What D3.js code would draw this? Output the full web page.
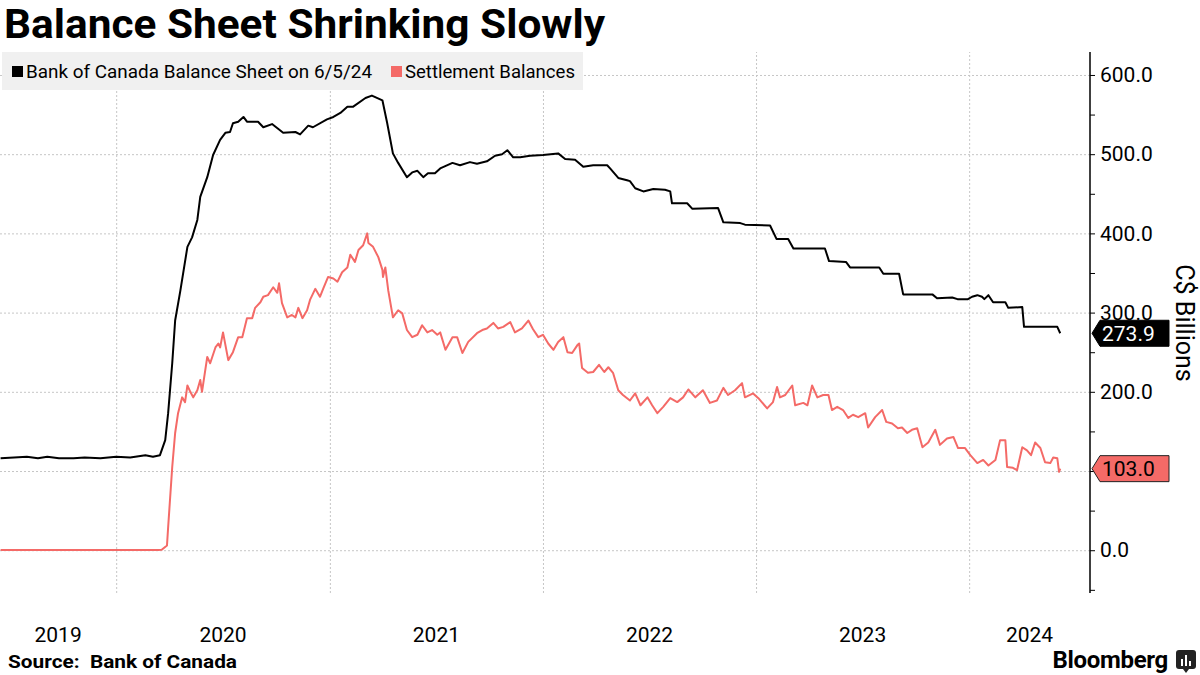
<!DOCTYPE html>
<html>
<head>
<meta charset="utf-8">
<script src="https://cdn.jsdelivr.net/npm/d3@7"></script>
<style>
  html, body { margin: 0; padding: 0; background: #fff; }
  svg { display: block; font-family: Roboto, "Noto Sans", sans-serif; }
</style>
</head>
<body>
<svg id="chart" width="1200" height="675"></svg>
<script>
// ---------------- DATA ----------------
const titleText = "Balance Sheet Shrinking Slowly";
const seriesNames = ["Bank of Canada Balance Sheet on 6/5/24", "Settlement Balances"];
const yTickValues = [0, 100, 200, 300, 400, 500, 600];
const yMinorTicks = [-50, 50, 150, 250, 350, 450, 550];
const yearLabels = [2019, 2020, 2021, 2022, 2023, 2024];
const domainStart = "2019-06-16";
const domainEnd = "2024-07-26";
const lastValues = [273.9, 103.0];

const balanceSheet = [
  ["2019-06-17",116],["2019-07-10",117],["2019-08-01",118],["2019-08-20",116],["2019-09-05",118],
  ["2019-09-25",116],["2019-10-20",116],["2019-11-08",117],["2019-12-05",116],["2020-01-01",118],
  ["2020-01-25",117],["2020-02-20",120],["2020-03-04",118],["2020-03-16",120],["2020-03-25",139],
  ["2020-03-30",173],["2020-04-06",236],["2020-04-11",290],["2020-04-20",328],["2020-05-02",383],
  ["2020-05-10",395],["2020-05-19",417],["2020-05-24",446],["2020-06-05",471],["2020-06-15",499],
  ["2020-06-27",518],["2020-07-06",527],["2020-07-14",528],["2020-07-19",539],["2020-07-28",541],
  ["2020-08-06",547],["2020-08-12",541],["2020-08-31",541],["2020-09-09",534],["2020-09-24",538],
  ["2020-10-13",527],["2020-11-03",528],["2020-11-11",525],["2020-11-25",536],["2020-12-03",534],
  ["2020-12-27",544],["2021-01-07",547],["2021-01-19",552],["2021-01-31",560],["2021-02-10",560],
  ["2021-03-03",571],["2021-03-14",574],["2021-04-01",568],["2021-04-09",540],["2021-04-19",501],
  ["2021-04-28",489],["2021-05-13",471],["2021-05-22",477],["2021-05-31",479],["2021-06-10",471],
  ["2021-06-18",476],["2021-06-30",476],["2021-07-09",482],["2021-07-30",489],["2021-08-12",486],
  ["2021-08-29",490],["2021-09-10",488],["2021-09-27",491],["2021-10-11",498],["2021-10-23",500],
  ["2021-11-01",505],["2021-11-11",496],["2021-11-23",496],["2021-12-10",498],["2022-01-01",499],
  ["2022-01-27",501],["2022-02-08",494],["2022-02-25",493],["2022-03-11",484],["2022-03-28",486],
  ["2022-04-21",486],["2022-04-26",482],["2022-05-10",470],["2022-05-25",467],["2022-05-30",466],
  ["2022-06-08",457],["2022-06-22",453],["2022-07-09",456],["2022-07-29",455],["2022-08-07",453],
  ["2022-08-10",438],["2022-09-05",438],["2022-09-14",431],["2022-10-28",432],["2022-11-06",414],
  ["2022-12-05",413],["2022-12-13",411],["2023-01-25",410],["2023-02-05",393],["2023-02-25",393],
  ["2023-03-06",381],["2023-04-29",381],["2023-05-06",365],["2023-06-04",364],["2023-06-11",357],
  ["2023-07-31",357],["2023-08-07",349],["2023-09-03",349],["2023-09-10",323],["2023-10-30",323],
  ["2023-11-07",318],["2023-12-03",319],["2023-12-12",317],["2023-12-30",317],["2024-01-06",320],
  ["2024-01-15",322],["2024-01-23",320],["2024-01-27",317],["2024-02-03",322],["2024-02-11",313],
  ["2024-03-03",313],["2024-03-08",306],["2024-04-01",307],["2024-04-04",282],["2024-05-31",282],
  ["2024-06-05",273.9]
];

const settlementBalances = [
  ["2019-06-17",0.3],["2020-03-13",0.3],["2020-03-19",0.5],["2020-03-28",6],["2020-03-30",29],
  ["2020-04-06",105],["2020-04-11",148],["2020-04-16",173],["2020-04-23",193],["2020-04-28",187],
  ["2020-05-02",208],["2020-05-07",200],["2020-05-12",193],["2020-05-19",202],["2020-05-24",215],
  ["2020-05-27",200],["2020-06-05",244],["2020-06-10",236],["2020-06-19",256],["2020-06-24",261],
  ["2020-06-27",256],["2020-07-02",275],["2020-07-11",240],["2020-07-19",250],["2020-07-28",269],
  ["2020-08-04",269],["2020-08-12",293],["2020-08-21",293],["2020-08-26",306],["2020-09-04",313],
  ["2020-09-09",320],["2020-09-17",322],["2020-09-26",332],["2020-10-03",325],["2020-10-06",337],
  ["2020-10-11",312],["2020-10-20",294],["2020-10-28",297],["2020-11-03",294],["2020-11-08",306],
  ["2020-11-15",293],["2020-11-23",303],["2020-11-28",316],["2020-12-07",330],["2020-12-15",320],
  ["2020-12-21",331],["2020-12-29",345],["2021-01-07",343],["2021-01-14",339],["2021-01-22",351],
  ["2021-01-31",357],["2021-02-05",373],["2021-02-13",364],["2021-02-19",379],["2021-02-27",385],
  ["2021-03-06",400],["2021-03-08",388],["2021-03-16",383],["2021-03-25",370],["2021-04-01",354],
  ["2021-04-02",345],["2021-04-06",357],["2021-04-11",328],["2021-04-19",294],["2021-04-28",303],
  ["2021-05-05",299],["2021-05-13",278],["2021-05-22",269],["2021-05-31",272],["2021-06-08",284],
  ["2021-06-17",275],["2021-06-25",278],["2021-07-04",272],["2021-07-09",275],["2021-07-18",253],
  ["2021-07-30",269],["2021-08-07",269],["2021-08-16",249],["2021-08-26",263],["2021-09-10",274],
  ["2021-09-19",278],["2021-09-27",280],["2021-10-08",287],["2021-10-16",280],["2021-10-25",282],
  ["2021-11-06",288],["2021-11-14",275],["2021-11-26",280],["2021-12-07",290],["2021-12-15",279],
  ["2021-12-24",269],["2022-01-01",272],["2022-01-10",261],["2022-01-19",253],["2022-01-27",263],
  ["2022-02-05",269],["2022-02-12",250],["2022-02-20",249],["2022-03-01",259],["2022-03-04",261],
  ["2022-03-09",230],["2022-03-19",224],["2022-03-28",225],["2022-04-07",234],["2022-04-16",225],
  ["2022-04-23",231],["2022-05-01",224],["2022-05-10",202],["2022-05-18",196],["2022-05-30",189],
  ["2022-06-08",198],["2022-06-17",183],["2022-06-29",193],["2022-07-07",183],["2022-07-16",173],
  ["2022-07-26",181],["2022-08-07",192],["2022-08-19",187],["2022-08-29",193],["2022-09-07",203],
  ["2022-09-19",193],["2022-10-02",202],["2022-10-14",186],["2022-10-26",189],["2022-11-06",205],
  ["2022-11-14",196],["2022-11-26",202],["2022-12-08",211],["2022-12-13",193],["2022-12-27",198],
  ["2023-01-05",192],["2023-01-20",179],["2023-01-30",187],["2023-02-06",206],["2023-02-11",193],
  ["2023-02-20",196],["2023-03-04",208],["2023-03-09",183],["2023-03-23",186],["2023-03-30",183],
  ["2023-04-07",208],["2023-04-16",193],["2023-04-26",196],["2023-05-05",196],["2023-05-11",177],
  ["2023-05-20",181],["2023-05-30",177],["2023-06-08",167],["2023-06-16",171],["2023-06-25",168],
  ["2023-07-07",173],["2023-07-12",155],["2023-07-24",168],["2023-08-05",177],["2023-08-12",162],
  ["2023-08-22",160],["2023-09-01",154],["2023-09-08",155],["2023-09-17",148],["2023-09-25",152],
  ["2023-10-04",154],["2023-10-13",130],["2023-10-23",136],["2023-11-04",152],["2023-11-12",133],
  ["2023-11-24",141],["2023-12-05",143],["2023-12-13",129],["2023-12-25",129],["2024-01-03",120],
  ["2024-01-15",110],["2024-01-25",114],["2024-02-03",107],["2024-02-15",114],["2024-02-23",139],
  ["2024-03-03",139],["2024-03-06",105],["2024-03-16",104],["2024-03-23",101],["2024-04-01",130],
  ["2024-04-09",126],["2024-04-16",120],["2024-04-23",136],["2024-05-02",129],["2024-05-10",111],
  ["2024-05-19",110],["2024-05-24",117],["2024-05-31",116],["2024-06-03",99],["2024-06-05",103.0]
];

// ---------------- STYLE ----------------
const colors = { balance: "#000000", settlement: "#f46a67", grid: "#c6c6c6", legendBg: "#f0f0f0" };
const plot = { left: 0, right: 1090, top: 52, bottom: 593 };

const parse = d3.utcParse("%Y-%m-%d");
const svg = d3.select("#chart");

const x = d3.scaleUtc()
  .domain([parse(domainStart), parse(domainEnd)])
  .range([plot.left, plot.right]);
const y = d3.scaleLinear()
  .domain([-54, 629])
  .range([plot.bottom, plot.top]);

// Gridlines horizontal
svg.append("g")
  .attr("transform", `translate(${plot.left},0)`)
  .call(d3.axisRight(y).tickValues(yTickValues).tickSize(plot.right - plot.left).tickFormat(""))
  .call(g => g.select(".domain").remove())
  .call(g => g.selectAll("line").attr("stroke", colors.grid).attr("stroke-dasharray", "2,2"));

// Gridlines vertical at year starts
const yearStarts = yearLabels.slice(1).map(yv => new Date(Date.UTC(yv, 0, 1)));
svg.append("g")
  .attr("transform", `translate(0,${plot.bottom})`)
  .call(d3.axisTop(x).tickValues(yearStarts).tickSize(plot.bottom - plot.top).tickFormat(""))
  .call(g => g.select(".domain").remove())
  .call(g => g.selectAll("line").attr("stroke", colors.grid).attr("stroke-dasharray", "2,2"));

// Legend
svg.append("rect").attr("x", 2).attr("y", 52).attr("width", 581).attr("height", 38).attr("fill", colors.legendBg);
const legendItems = [
  { name: seriesNames[0], color: colors.balance, sx: 12, tx: 26, w: 346 },
  { name: seriesNames[1], color: colors.settlement, sx: 391, tx: 405, w: 170 }
];
legendItems.forEach(it => {
  svg.append("rect").attr("x", it.sx).attr("y", 66).attr("width", 11).attr("height", 11).attr("fill", it.color);
  svg.append("text").attr("x", it.tx).attr("y", 78).attr("font-size", 18).attr("fill", "#000")
    .attr("textLength", it.w).attr("lengthAdjust", "spacingAndGlyphs").text(it.name);
});

// Lines
const line = d3.line().x(d => x(parse(d[0]))).y(d => y(d[1]));
svg.append("path").datum(settlementBalances).attr("d", line)
  .attr("fill", "none").attr("stroke", colors.settlement).attr("stroke-width", 2).attr("stroke-linejoin", "round");
svg.append("path").datum(balanceSheet).attr("d", line)
  .attr("fill", "none").attr("stroke", colors.balance).attr("stroke-width", 2).attr("stroke-linejoin", "round");

// Right axis
const yAxisG = svg.append("g").attr("transform", `translate(${plot.right},0)`);
yAxisG.append("line").attr("x1", 0).attr("x2", 0).attr("y1", plot.top).attr("y2", plot.bottom)
  .attr("stroke", "#000").attr("stroke-width", 1.5);
yAxisG.call(d3.axisRight(y).tickValues(yMinorTicks).tickSize(5).tickFormat(""))
  .call(g => g.select(".domain").remove());
const yMajor = svg.append("g").attr("transform", `translate(${plot.right},0)`)
  .call(d3.axisRight(y).tickValues(yTickValues).tickSize(5).tickPadding(5).tickFormat(d3.format(".1f")));
yMajor.select(".domain").remove();
yMajor.selectAll("text").attr("font-size", 21).attr("fill", "#000").attr("font-family", "Roboto, sans-serif");
yMajor.selectAll("line").attr("stroke", "#000");

// Axis title
svg.append("text").attr("transform", `translate(1176,323) rotate(90)`)
  .attr("text-anchor", "middle").attr("font-size", 25).attr("fill", "#000").text("C$ Billions");

// X labels
const xLab = svg.append("g");
yearLabels.forEach(yr => {
  const s = d3.max([new Date(Date.UTC(yr, 0, 1)), x.domain()[0]]);
  const e = d3.min([new Date(Date.UTC(yr + 1, 0, 1)), x.domain()[1]]);
  xLab.append("text").attr("x", (x(s) + x(e)) / 2).attr("y", 642)
    .attr("text-anchor", "middle").attr("font-size", 21).attr("fill", "#000").text(yr);
});

// Last value labels
function valueTag(v, fill, textFill, stroke) {
  const cy = y(v);
  const g = svg.append("g");
  g.append("path")
    .attr("d", `M${plot.right + 2},${cy} L${plot.right + 10},${cy - 13} L1169,${cy - 13} L1169,${cy + 13} L${plot.right + 10},${cy + 13} Z`)
    .attr("fill", fill).attr("stroke", stroke).attr("stroke-width", 1);
  g.append("text").attr("x", 1102).attr("y", cy + 7.5).attr("font-size", 21).attr("fill", textFill)
    .text(d3.format(".1f")(v));
}
valueTag(lastValues[0], "#000", "#fff", "#000");
valueTag(lastValues[1], colors.settlement, "#000", "#222");

// Title
svg.append("text").attr("x", 4).attr("y", 38).attr("font-size", 40).attr("font-weight", "bold")
  .attr("textLength", 601).attr("lengthAdjust", "spacingAndGlyphs").attr("fill", "#000").text(titleText);

// Footer
svg.append("text").attr("x", 8).attr("y", 668).attr("font-size", 18).attr("font-weight", "bold")
  .attr("textLength", 229).attr("lengthAdjust", "spacingAndGlyphs")
  .style("white-space", "pre").text("Source:  Bank of Canada");
svg.append("text").attr("x", 1168).attr("y", 668).attr("text-anchor", "end").attr("font-size", 24)
  .attr("font-weight", "bold").attr("letter-spacing", "-0.3").text("Bloomberg");
// Bloomberg icon
const logo = svg.append("g").attr("transform", "translate(1176,650)");
logo.append("rect").attr("width", 20).attr("height", 19).attr("rx", 3).attr("fill", "#222");
logo.append("path").attr("d", "M7,19 L10,23 L13,19 Z").attr("fill", "#222");
[[5, 9, 2, 7], [9, 5, 2, 11], [13, 11, 2, 5]].forEach(b =>
  logo.append("rect").attr("x", b[0]).attr("y", b[1]).attr("width", b[2]).attr("height", b[3]).attr("fill", "#fff"));
</script>
</body>
</html>
